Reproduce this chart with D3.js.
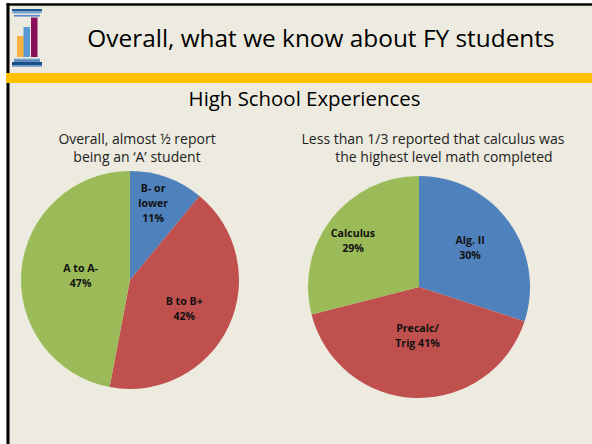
<!DOCTYPE html>
<html><head><meta charset="utf-8">
<script src="https://cdn.jsdelivr.net/npm/d3@7"></script>
<style>html,body{margin:0;padding:0;background:#fff}svg{display:block}</style></head>
<body><svg id="c" width="592" height="444"></svg>
<script>
const titleText = "Overall, what we know about FY students";
const subtitleText = "High School Experiences";
const leftCaption = ["Overall, almost ½ report", "being an ‘A’ student"];
const rightCaption = ["Less than 1/3 reported that calculus was", "the highest level math completed"];
const leftCategories = ["B- or lower", "B to B+", "A to A-"];
const leftValues = [11, 42, 47];
const leftLabels = [["B- or","lower","11%"],["B to B+","42%"],["A to A-","47%"]];
const rightCategories = ["Alg. II", "Precalc/Trig", "Calculus"];
const rightValues = [30, 41, 29];
const rightLabels = [["Alg. II","30%"],["Precalc/","Trig 41%"],["Calculus","29%"]];
const sliceColors = ["#4f81bd","#c0504d","#9bbb59"];

const svg = d3.select("#c");
const uiFont = "'Open Sans'";
svg.append("rect").attr("x",6).attr("y",3).attr("width",586).attr("height",441).attr("fill","#edebe0");
svg.append("rect").attr("x",6.5).attr("y",3.3).attr("width",585.5).attr("height",2.4).attr("fill","#000");
svg.append("rect").attr("x",6.5).attr("y",3.3).attr("width",3).attr("height",441).attr("fill","#000");
svg.append("rect").attr("x",6).attr("y",73).attr("width",586).attr("height",10).attr("fill","#ffc000");

// logo
const logo = svg.append("g");
[[12,9,30,2.2,"#1f5a94"],[12.5,11.2,29,2,"#6f9cc8"],[14,13.2,26,1.2,"#b4c9de"],[14,15,26,1.6,"#5f8fc0"],
 [14,58,26,1.4,"#b4c9de"],[14,59.4,26,2.4,"#4f82b8"],[12,62,30,3,"#174f8a"],[12,65,30,1.8,"#6f9cc8"]]
 .forEach(d=>logo.append("rect").attr("x",d[0]).attr("y",d[1]).attr("width",d[2]).attr("height",d[3]).attr("fill",d[4]));
[[17,36,7,21,"#fbb040"],[23.5,27,6.5,30,"#5b9bd5"],[31,17.5,6.5,39.5,"#8a0f5b"]]
 .forEach(d=>logo.append("rect").attr("x",d[0]).attr("y",d[1]).attr("width",d[2]).attr("height",d[3]).attr("fill",d[4]));

function lines(arr,x,y,dy,size,fill){
  const t = svg.append("text").attr("font-family",uiFont).attr("font-size",size)
    .attr("fill",fill||"#000").attr("text-anchor","middle");
  arr.forEach((s,i)=>t.append("tspan").attr("x",Array.isArray(x)?x[i]:x).attr("y",y+i*dy).text(s));
}
lines([titleText],321,47,0,24.4);
lines([subtitleText],304.5,106,0,20.4);
lines(leftCaption,137,144,18,14,"#222");
lines(rightCaption,[433,444],144,18,14,"#222");

function pie(values,labels,cx,cy,r,labelPos,nudge){
  const g = svg.append("g").attr("transform",`translate(${cx},${cy})`);
  const arcs = d3.pie().sort(null)(values);
  const arc = d3.arc().innerRadius(0).outerRadius(r);
  g.selectAll("path").data(arcs).join("path").attr("d",arc).attr("fill",(d,i)=>sliceColors[i]);
  arcs.forEach((a,i)=>{
    const mid=(a.startAngle+a.endAngle)/2, rr=r*labelPos[i];
    const x=Math.sin(mid)*rr+nudge[i][0], y=-Math.cos(mid)*rr+nudge[i][1];
    const n=labels[i].length;
    const t=g.append("text").attr("font-family",uiFont).attr("font-weight",700).attr("font-size",10.6).attr("text-anchor","middle").attr("fill","#111");
    labels[i].forEach((s,j)=>t.append("tspan").attr("x",x).attr("y",y-(n-1)*7.5+4+j*15).text(s));
  });
}
pie(leftValues,leftLabels,130,280,109,[0.735,0.56,0.455],[[-4,-2],[-1,3],[0,0]]);
pie(rightValues,rightLabels,419,287,111,[0.58,0.44,0.73],[[-1,-2],[0,0],[-2,3]]);
</script></body></html>
